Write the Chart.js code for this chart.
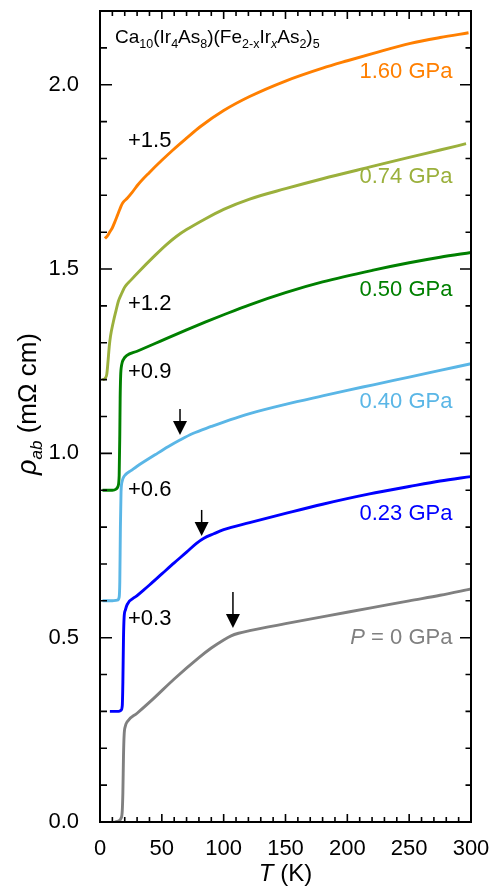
<!DOCTYPE html>
<html>
<head>
<meta charset="utf-8">
<script src="https://cdn.jsdelivr.net/npm/chart.js@4.4.0/dist/chart.umd.min.js"></script>
<style>
  html, body { margin: 0; padding: 0; background: #fff; }
  #wrap { width: 492px; height: 888px; }
</style>
</head>
<body>
<div id="wrap"><canvas id="chart" width="492" height="888"></canvas></div>
<script>
// Data (rho_ab in mOhm cm, curves already shifted by their offsets)
const tempP0   = [12, 15, 17, 18, 18.5, 19, 19.5, 20.5, 22, 30, 43, 60, 80, 90, 100, 106, 112, 121, 150, 185, 218, 250, 275, 300];
const rhoP0    = [0, 0.003, 0.01, 0.03, 0.08, 0.18, 0.235, 0.26, 0.272, 0.295, 0.334, 0.388, 0.446, 0.472, 0.494, 0.505, 0.512, 0.519, 0.538, 0.56, 0.58, 0.6, 0.615, 0.632];

const temp023  = [8, 10, 15, 17, 18, 18.5, 19, 19.5, 20.5, 22, 30, 40, 50, 60, 70, 78, 84, 92, 100, 121, 150, 180, 218, 250, 275, 300];
const rho023   = [0.30, 0.30, 0.30, 0.303, 0.315, 0.38, 0.5, 0.555, 0.575, 0.59, 0.614, 0.643, 0.673, 0.703, 0.732, 0.756, 0.770, 0.782, 0.793, 0.812, 0.837, 0.862, 0.89, 0.91, 0.925, 0.937];

const temp040  = [2, 10, 14, 15.5, 16, 16.5, 17, 18, 19, 20.8, 25, 30, 44.5, 55, 65, 75, 90, 105, 121, 150, 180, 200, 221, 250, 275, 300];
const rho040   = [0.60, 0.60, 0.602, 0.61, 0.65, 0.8, 0.895, 0.925, 0.935, 0.943, 0.953, 0.965, 0.996, 1.018, 1.037, 1.054, 1.073, 1.091, 1.108, 1.133, 1.156, 1.171, 1.186, 1.207, 1.225, 1.243];

const temp050  = [2, 10, 13, 14.5, 15.5, 16, 16.3, 16.7, 17.5, 19, 21.5, 30, 44.5, 54, 70, 85, 100, 121, 150, 180, 221, 250, 275, 300];
const rho050   = [0.90, 0.90, 0.903, 0.91, 0.94, 1.05, 1.15, 1.21, 1.24, 1.255, 1.265, 1.277, 1.298, 1.312, 1.335, 1.356, 1.376, 1.403, 1.436, 1.465, 1.497, 1.517, 1.532, 1.545];

const temp074  = [2, 4, 5.5, 6.5, 7.5, 8.5, 10.8, 13, 14.8, 17, 20.2, 25, 30, 44.5, 54, 62, 70, 85, 100, 121, 150, 180, 221, 250, 275, 296];
const rho074   = [1.20, 1.203, 1.215, 1.25, 1.29, 1.318, 1.357, 1.388, 1.412, 1.43, 1.452, 1.47, 1.488, 1.537, 1.567, 1.589, 1.607, 1.636, 1.662, 1.690, 1.718, 1.745, 1.779, 1.803, 1.823, 1.840];

const temp160  = [4, 6, 8, 10, 12, 14, 16, 17.5, 19, 22, 26, 31, 40, 50, 59, 70, 81, 100, 121, 150, 180, 200, 221, 251, 275, 298];
const rho160   = [1.583, 1.59, 1.601, 1.612, 1.628, 1.645, 1.662, 1.674, 1.682, 1.692, 1.708, 1.73, 1.762, 1.795, 1.823, 1.855, 1.886, 1.93, 1.968, 2.01, 2.045, 2.065, 2.085, 2.112, 2.128, 2.141];

const pressureLabels = ['P = 0 GPa', '0.23 GPa', '0.40 GPa', '0.50 GPa', '0.74 GPa', '1.60 GPa'];
const offsetLabels   = ['+0.3', '+0.6', '+0.9', '+1.2', '+1.5'];
const xTicks = [0, 50, 100, 150, 200, 250, 300];
const yTicks = [0.0, 0.5, 1.0, 1.5, 2.0];

const FONT = '"Liberation Sans", Arial, Helvetica, sans-serif';
const colors = ['#808080', '#0000FF', '#5AB6E6', '#008000', '#9BB03C', '#FF7F00'];

/* ---------- helpers ---------- */
function pts(ts, rs) { return ts.map((t, i) => ({ x: t, y: rs[i] })); }

function series(label, ts, rs, color) {
  return {
    label, data: pts(ts, rs), borderColor: color, borderWidth: 2.9,
    pointRadius: 0, showLine: true, fill: false, cubicInterpolationMode: 'monotone'
  };
}

function drawRuns(ctx, runs, x, y, align) {
  let w = 0;
  runs.forEach(r => { ctx.font = r[1]; w += ctx.measureText(r[0]).width; });
  let cx = align === 'right' ? x - w : align === 'center' ? x - w / 2 : x;
  ctx.textAlign = 'left';
  ctx.textBaseline = 'alphabetic';
  runs.forEach(r => {
    ctx.font = r[1];
    ctx.fillText(r[0], cx, y + (r[2] || 0));
    cx += ctx.measureText(r[0]).width;
  });
}

// label anchors in data coordinates (T, rho)
const labelAnchors = [[285, 0.483], [285, 0.819], [285, 1.123], [285, 1.427], [285, 1.734], [285, 2.018]];
const offsetAnchors = [[22.6, 0.534], [22.6, 0.884], [22.6, 1.205], [22.6, 1.389], [22.6, 1.831]];
const arrows = [{ t: 64.7, tip: 1.05, len: 26 }, { t: 82.2, tip: 0.776, len: 26 }, { t: 107.5, tip: 0.526, len: 36 }];

/* ---------- frame, ticks and texts ---------- */
const decor = {
  id: 'decor',
  afterDatasetsDraw(chart) {
    const { ctx, chartArea: a, scales: { x, y } } = chart;
    ctx.save();
    ctx.strokeStyle = '#000';
    ctx.fillStyle = '#000';
    ctx.lineWidth = 2;
    ctx.strokeRect(a.left, a.top, a.right - a.left, a.bottom - a.top);

    ctx.lineWidth = 1.6;
    ctx.beginPath();
    for (let t = 0; t <= 300; t += 10) {
      const px = x.getPixelForValue(t);
      const major = t % 50 === 0;
      const len = major ? 8 : 5;
      ctx.moveTo(px, a.bottom); ctx.lineTo(px, a.bottom - len);
      ctx.moveTo(px, a.top); ctx.lineTo(px, a.top + len);
    }
    for (let i = 0; i <= 22; i++) {
      const py = y.getPixelForValue(i / 10);
      const major = i % 5 === 0;
      ctx.moveTo(a.left, py); ctx.lineTo(a.left + (major ? 12 : 7), py);
      ctx.moveTo(a.right, py); ctx.lineTo(a.right - (major ? 11 : 5.5), py);
    }
    ctx.stroke();

    // compound title
    const m = `19px ${FONT}`, s = `12.5px ${FONT}`, si = `italic 12.5px ${FONT}`;
    drawRuns(ctx, [['Ca', m], ['10', s, 5], ['(Ir', m], ['4', s, 5], ['As', m], ['8', s, 5],
      [')(Fe', m], ['2-x', s, 5], ['Ir', m], ['x', si, 5], ['As', m], ['2', s, 5], [')', m], ['5', s, 5]],
      a.left + 15, a.top + 32, 'left');

    // pressure labels
    pressureLabels.forEach((lab, i) => {
      ctx.fillStyle = colors[i];
      const px = x.getPixelForValue(labelAnchors[i][0]);
      const py = y.getPixelForValue(labelAnchors[i][1]);
      if (lab.startsWith('P ')) {
        drawRuns(ctx, [['P', `italic 22px ${FONT}`], [lab.slice(1), `22px ${FONT}`]], px, py, 'right');
      } else {
        drawRuns(ctx, [[lab, `22px ${FONT}`]], px, py, 'right');
      }
    });

    // offsets
    ctx.fillStyle = '#000';
    offsetLabels.forEach((lab, i) => {
      drawRuns(ctx, [[lab, `22px ${FONT}`]], x.getPixelForValue(offsetAnchors[i][0]), y.getPixelForValue(offsetAnchors[i][1]), 'left');
    });

    // arrows
    arrows.forEach(ar => {
      const px = x.getPixelForValue(ar.t);
      const tip = y.getPixelForValue(ar.tip);
      ctx.lineWidth = 1.5;
      ctx.beginPath();
      ctx.moveTo(px, tip - ar.len); ctx.lineTo(px, tip - 12);
      ctx.stroke();
      ctx.beginPath();
      ctx.moveTo(px - 7, tip - 14); ctx.lineTo(px + 7, tip - 14); ctx.lineTo(px, tip);
      ctx.closePath(); ctx.fill();
    });

    // axis titles
    drawRuns(ctx, [['T', `italic 24px ${FONT}`], [' (K)', `24px ${FONT}`]], (a.left + a.right) / 2, 881, 'center');
    ctx.translate(36, 404);
    ctx.rotate(-Math.PI / 2);
    drawRuns(ctx, [['\u03C1', `italic 27px ${FONT}`], ['ab', `italic 17px ${FONT}`, 6], [' (m\u03A9 cm)', `26px ${FONT}`]], 0, 0, 'center');
    ctx.restore();
  }
};

new Chart(document.getElementById('chart'), {
  type: 'scatter',
  data: {
    datasets: [
      series(pressureLabels[0], tempP0, rhoP0, colors[0]),
      series(pressureLabels[1], temp023, rho023, colors[1]),
      series(pressureLabels[2], temp040, rho040, colors[2]),
      series(pressureLabels[3], temp050, rho050, colors[3]),
      series(pressureLabels[4], temp074, rho074, colors[4]),
      series(pressureLabels[5], temp160, rho160, colors[5])
    ]
  },
  options: {
    responsive: false,
    devicePixelRatio: 1,
    animation: false,
    layout: { padding: { top: 11, right: 21, left: 0, bottom: 0 } },
    plugins: { legend: { display: false }, tooltip: { enabled: false } },
    scales: {
      x: {
        type: 'linear', min: 0, max: 300,
        grid: { display: false }, border: { display: false },
        afterBuildTicks: s => { s.ticks = xTicks.map(v => ({ value: v })); },
        afterFit: s => { s.height = 66; s.paddingLeft = 0; s.paddingRight = 0; },
        ticks: { color: '#000', font: { family: FONT, size: 22 }, padding: 6, maxRotation: 0, autoSkip: false }
      },
      y: {
        type: 'linear', min: 0, max: 2.2,
        grid: { display: false }, border: { display: false },
        afterBuildTicks: s => { s.ticks = yTicks.map(v => ({ value: v })); },
        afterFit: s => { s.width = 100; s.paddingTop = 0; s.paddingBottom = 0; },
        ticks: { color: '#000', font: { family: FONT, size: 22 }, padding: 13, callback: v => v.toFixed(1) }
      }
    }
  },
  plugins: [decor]
});
</script>
</body>
</html>
